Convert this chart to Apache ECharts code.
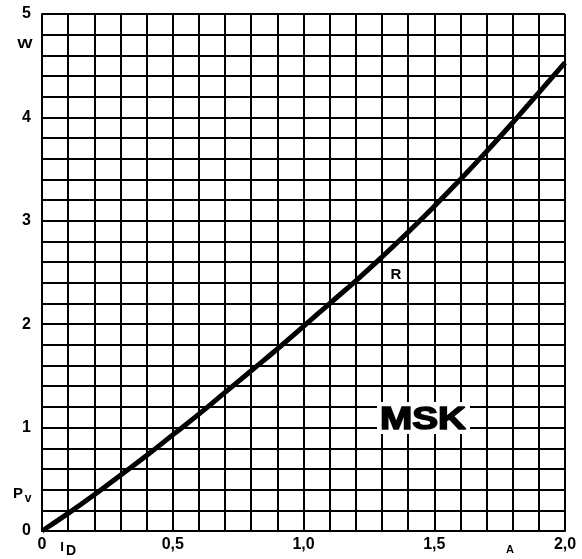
<!DOCTYPE html>
<html>
<head>
<meta charset="utf-8">
<script src="https://cdn.jsdelivr.net/npm/echarts@6/dist/echarts.min.js"></script>
<style>html,body{margin:0;padding:0;background:#fff}#c{width:582px;height:559px}</style>
</head>
<body>
<div id="c"></div>
<script>
// Current I_D (A)
const currentA = [0, 0.1, 0.2, 0.3, 0.4, 0.5, 0.6, 0.7, 0.8, 0.9, 1.0, 1.1, 1.2, 1.3, 1.4, 1.5, 1.6, 1.7, 1.8, 1.9, 2.0];
// Power loss P_v (W), curve R
const powerW = [0, 0.17, 0.35, 0.54, 0.73, 0.93, 1.13, 1.34, 1.55, 1.76, 1.98, 2.20, 2.42, 2.65, 2.89, 3.14, 3.40, 3.67, 3.95, 4.24, 4.53];
// Tick labels
const xTickValues = [0, 0.5, 1.0, 1.5, 2.0];
const xTickLabels = ['0', '0,5', '1,0', '1,5', '2,0'];
const yTickValues = [0, 1, 2, 3, 4, 5];
const yTickLabels = ['0', '1', '2', '3', '4', '5'];

const FONT = '"Liberation Sans", Arial, sans-serif';
function lookup(vals, labels) {
  return function (v) {
    for (let i = 0; i < vals.length; i++) if (Math.abs(v - vals[i]) < 1e-6) return labels[i];
    return '';
  };
}

const chart = echarts.init(document.getElementById('c'), null, {renderer: 'canvas'});
chart.setOption({
  animation: false,
  backgroundColor: '#fff',
  grid: {left: 42, right: 17, top: 14, bottom: 28, show: false},
  xAxis: {
    type: 'value', min: 0, max: 2, interval: 0.1,
    axisLine: {show: true, lineStyle: {color: '#000', width: 2}},
    axisTick: {show: false},
    splitLine: {show: true, lineStyle: {color: '#000', width: 2}},
    axisLabel: {formatter: lookup(xTickValues, xTickLabels), color: '#000', fontFamily: FONT, fontWeight: 'bold', fontSize: 16, margin: 6}
  },
  yAxis: {
    type: 'value', min: 0, max: 5, interval: 0.2,
    axisLine: {show: true, lineStyle: {color: '#000', width: 2}},
    axisTick: {show: false},
    splitLine: {show: true, lineStyle: {color: '#000', width: 2}},
    axisLabel: {formatter: lookup(yTickValues, yTickLabels), color: '#000', fontFamily: FONT, fontWeight: 'bold', fontSize: 16, margin: 11}
  },
  series: [{
    type: 'line', name: 'R',
    data: currentA.map((x, i) => [x, powerW[i]]),
    smooth: true, showSymbol: false,
    lineStyle: {color: '#000', width: 5},
    z: 5
  }],
  graphic: [
    {type: 'rect', shape: {x: 377, y: 402, width: 93, height: 32}, style: {fill: '#fff'}, z: 50},
    {type: 'text', x: 423, y: 420, scaleX: 1.25, z: 51,
     style: {text: 'MSK', font: 'bold 31px ' + FONT, textAlign: 'center', textVerticalAlign: 'middle', fill: '#000', stroke: '#000', lineWidth: 1.5}},
    {type: 'text', x: 396, y: 275, z: 51,
     style: {text: 'R', font: 'bold 15px ' + FONT, textAlign: 'center', textVerticalAlign: 'middle', fill: '#000'}},
    {type: 'text', x: 25, y: 45, scaleX: 1.35, z: 51,
     style: {text: 'W', font: 'bold 12px ' + FONT, textAlign: 'center', textVerticalAlign: 'middle', fill: '#000'}},
    {type: 'text', x: 18, y: 494, z: 51,
     style: {text: 'P', font: 'bold 15px ' + FONT, textAlign: 'center', textVerticalAlign: 'middle', fill: '#000'}},
    {type: 'text', x: 28, y: 499, z: 51,
     style: {text: 'v', font: 'bold 12px ' + FONT, textAlign: 'center', textVerticalAlign: 'middle', fill: '#000'}},
    {type: 'text', x: 62, y: 547, z: 51,
     style: {text: 'I', font: 'bold 13px ' + FONT, textAlign: 'center', textVerticalAlign: 'middle', fill: '#000'}},
    {type: 'text', x: 71, y: 551, z: 51,
     style: {text: 'D', font: 'bold 14px ' + FONT, textAlign: 'center', textVerticalAlign: 'middle', fill: '#000'}},
    {type: 'text', x: 510, y: 550, z: 51,
     style: {text: 'A', font: 'bold 11px ' + FONT, textAlign: 'center', textVerticalAlign: 'middle', fill: '#000'}}
  ]
});
</script>
</body>
</html>
